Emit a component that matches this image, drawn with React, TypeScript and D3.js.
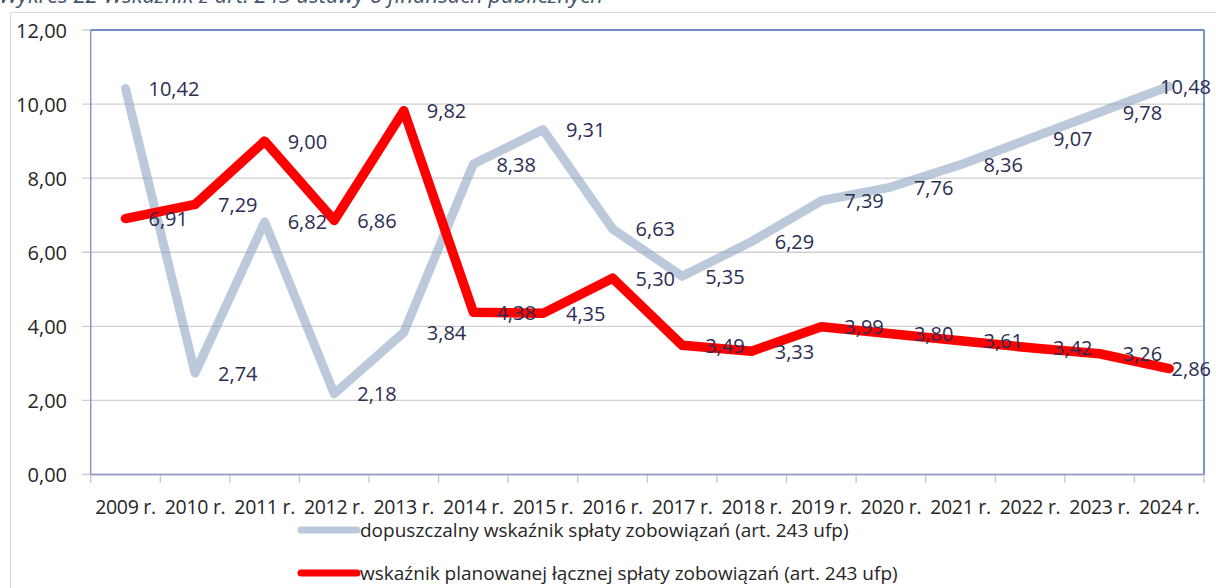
import React, { useEffect, useRef } from "react";
import * as d3 from "d3";

const categories = ["2009 r.", "2010 r.", "2011 r.", "2012 r.", "2013 r.", "2014 r.", "2015 r.", "2016 r.", "2017 r.", "2018 r.", "2019 r.", "2020 r.", "2021 r.", "2022 r.", "2023 r.", "2024 r."];
const dopuszczalny = [10.42, 2.74, 6.82, 2.18, 3.84, 8.38, 9.31, 6.63, 5.35, 6.29, 7.39, 7.76, 8.36, 9.07, 9.78, 10.48];
const planowany = [6.91, 7.29, 9.0, 6.86, 9.82, 4.38, 4.35, 5.3, 3.49, 3.33, 3.99, 3.8, 3.61, 3.42, 3.26, 2.86];
const yTicks = [0, 2, 4, 6, 8, 10, 12];
const seriesNames = [
  "dopuszczalny wskaźnik spłaty zobowiązań (art. 243 ufp)",
  "wskaźnik planowanej łącznej spłaty zobowiązań (art. 243 ufp)",
];
const titleText = "Wykres 22 Wskaźnik z art. 243 ustawy o finansach publicznych";

const fmt = (v: number) => v.toFixed(2).replace(".", ",");

export default function App() {
  const ref = useRef<SVGSVGElement | null>(null);

  useEffect(() => {
    const svg = d3.select(ref.current);
    svg.selectAll("*").remove();
    const font = "'Open Sans', sans-serif";
    const left = 90.7, right = 1204, top = 30, bottom = 474.5;

    const x = d3.scaleBand<string>().domain(categories).range([left, right]).padding(0);
    const y = d3.scaleLinear().domain([0, 12]).range([bottom, top]);
    const xc = (i: number) => (x(categories[i]) as number) + x.bandwidth() / 2;

    // outer frame & title
    svg.append("rect").attr("x", 10.5).attr("y", 12.5).attr("width", 1220).attr("height", 600)
      .attr("fill", "none").attr("stroke", "#D9D9D9").attr("stroke-width", 1);
    svg.append("text").attr("x", -1).attr("y", 3).text(titleText)
      .attr("font-family", font).attr("font-size", 22).attr("font-style", "italic").attr("fill", "#44546A");

    // gridlines + y ticks
    yTicks.forEach((t) => {
      svg.append("line").attr("x1", 82).attr("x2", right).attr("y1", y(t)).attr("y2", y(t))
        .attr("stroke", "#D0D0D0").attr("stroke-width", 1.3);
      svg.append("text").attr("x", 67).attr("y", y(t)).attr("text-anchor", "end")
        .attr("dominant-baseline", "central").text(fmt(t))
        .attr("font-family", font).attr("font-size", 20).attr("fill", "#262626");
    });

    // x ticks
    const bounds = categories.map((c) => x(c) as number).concat([right]);
    bounds.forEach((b) => {
      svg.append("line").attr("x1", b).attr("x2", b).attr("y1", bottom).attr("y2", 483)
        .attr("stroke", "#C8C8C8").attr("stroke-width", 1.3);
    });
    categories.forEach((c, i) => {
      svg.append("text").attr("x", xc(i)).attr("y", 514).attr("text-anchor", "middle").text(c)
        .attr("font-family", font).attr("font-size", 19.5).attr("letter-spacing", -0.3).attr("fill", "#262626");
    });

    // plot borders
    svg.append("line").attr("x1", left).attr("x2", right).attr("y1", top).attr("y2", top)
      .attr("stroke", "#4F6FBF").attr("stroke-width", 1.5);
    svg.append("line").attr("x1", right).attr("x2", right).attr("y1", top).attr("y2", bottom)
      .attr("stroke", "#4F6FBF").attr("stroke-width", 1.5);
    svg.append("line").attr("x1", left).attr("x2", left).attr("y1", top).attr("y2", bottom)
      .attr("stroke", "#8A98BE").attr("stroke-width", 1.5);
    svg.append("line").attr("x1", left).attr("x2", right).attr("y1", bottom).attr("y2", bottom)
      .attr("stroke", "#8A98BE").attr("stroke-width", 1.5);

    const line = d3.line<number>().x((_, i) => xc(i)).y((d) => y(d));

    svg.append("path").attr("d", line(dopuszczalny) as string).attr("fill", "none")
      .attr("stroke", "#8EA5C2").attr("stroke-opacity", 0.6).attr("stroke-width", 9)
      .attr("stroke-linejoin", "round").attr("stroke-linecap", "round");
    svg.append("path").attr("d", line(planowany) as string).attr("fill", "none")
      .attr("stroke", "#FF0000").attr("stroke-width", 9.5)
      .attr("stroke-linejoin", "round").attr("stroke-linecap", "round");

    // data labels
    const addLabels = (vals: number[]) => {
      vals.forEach((v, i) => {
        const t = svg.append("text").attr("x", xc(i) + 23).attr("y", y(v))
          .attr("dominant-baseline", "central").text(fmt(v))
          .attr("font-family", font).attr("font-size", 20).attr("fill", "#2B2D52");
        const node = t.node() as SVGTextElement;
        const w = node.getComputedTextLength();
        if (xc(i) + 23 + w > 1211) t.attr("x", 1211 - w);
      });
    };
    addLabels(dopuszczalny);
    addLabels(planowany);

    // legend
    const legendY = [530, 573];
    const legendColors = ["#BCC9DA", "#FF0000"];
    seriesNames.forEach((n, i) => {
      svg.append("line").attr("x1", 301).attr("x2", 357).attr("y1", legendY[i]).attr("y2", legendY[i])
        .attr("stroke", legendColors[i]).attr("stroke-width", 7).attr("stroke-linecap", "round");
      svg.append("text").attr("x", 360).attr("y", legendY[i]).attr("dominant-baseline", "central").text(n)
        .attr("font-family", font).attr("font-size", 19).attr("fill", "#262626");
    });
  }, []);

  return (
    <svg ref={ref} width={1216} height={588}
      style={{ position: "absolute", left: 0, top: 0, background: "#fff" }} />
  );
}
